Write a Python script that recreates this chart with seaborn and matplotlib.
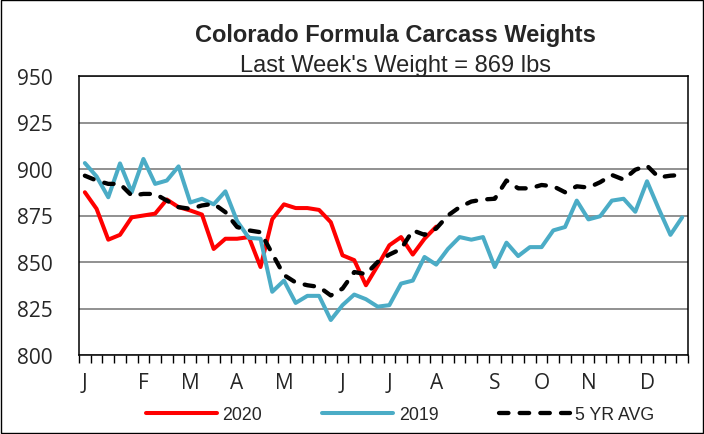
import numpy as np
import pandas as pd
import seaborn as sns
import matplotlib.pyplot as plt
from matplotlib.patches import Rectangle

# weekly carcass weights (lbs), week index 0..51
weeks = np.arange(52)
month_weeks = [0, 5, 9, 13, 17, 22, 26, 30, 35, 39, 43, 48]
month_labels = ['J', 'F', 'M', 'A', 'M', 'J', 'J', 'A', 'S', 'O', 'N', 'D']

w2020 = [887.5, 878.6, 862, 864.6, 874, 875, 876, 883.6, 879.5, 877.7,
         875.5, 857, 862.5, 862.5, 863.4, 847.3, 873, 881, 879, 879,
         878, 871.4, 853.6, 851, 837.5, 848, 859, 863.4, 854, 862.5, 869]

w2019 = [903.2, 896, 884.8, 903, 887.5, 905.4, 892, 893.8, 901.4, 882,
         884, 881, 888, 872, 863, 862.5, 834, 840, 828, 831.8,
         831.8, 818.8, 826.8, 832.5, 830, 826, 826.8, 838.4, 840, 852.7,
         848.6, 857, 863.4, 862, 863.4, 847.3, 860.4, 853.2, 858, 858,
         867, 868.8, 883, 872.9, 874.6, 883, 884, 877, 893.4, 878.6,
         864.6, 874]

avg5 = [896.4, 893.8, 892, 892, 885.7, 886.6, 886.6, 883, 879.5, 878.6,
        880.4, 881.3, 876.8, 868.8, 867, 866, 854.5, 843, 839, 837.5,
        836.6, 832, 835.7, 844.6, 843.5, 850, 854, 857, 867, 864.6,
        868, 875, 879.5, 882.5, 883.6, 884, 893.8, 889.6, 889.6, 891.4,
        890.7, 887.5, 890.7, 890, 892.9, 896.8, 894.3, 899.6, 901.8, 895.5,
        896.4, 896.8]

sns.set_style('white')
plt.rcParams['font.family'] = ['Liberation Sans', 'DejaVu Sans']

fig = plt.figure(figsize=(7.04, 4.35), dpi=100)
ax = fig.add_axes([79 / 704, 1 - 356 / 435, 609 / 704, 279 / 435])

sns.lineplot(x=weeks[:len(w2020)], y=w2020, color='#FF0000', lw=2.9, label='2020', ax=ax)
sns.lineplot(x=weeks, y=w2019, color='#4BACC6', lw=2.9, label='2019', ax=ax)
sns.lineplot(x=weeks, y=avg5, color='black', lw=3.1, linestyle=(0, (2.2, 2.6)),
             label='5 YR AVG', ax=ax)
for ln in ax.get_lines():
    ln.set_solid_capstyle('round')
    ln.set_dash_capstyle('round')

ax.set_xlim(-0.5, 51.5)
ax.set_ylim(800, 950)
yt = np.arange(800, 951, 25)
ax.set_yticks(yt)
ax.set_yticklabels([str(v) for v in yt], fontfamily='Open Sans', fontsize=15)
ax.tick_params(axis='y', length=0, pad=19)
ax.yaxis.grid(True, color='#888888', lw=1.3)
ax.set_axisbelow(True)

ax.set_xticks(month_weeks)
ax.set_xticklabels(month_labels, fontfamily='Open Sans', fontsize=15)
ax.set_xticks(np.arange(-0.5, 52, 1), minor=True)
ax.tick_params(axis='x', which='major', length=0, pad=12)
ax.tick_params(axis='x', which='minor', bottom=True, length=6, width=1,
               color='black', direction='out')

for s in ax.spines.values():
    s.set_color('black')
    s.set_linewidth(1.1)

handles, labels = ax.get_legend_handles_labels()
ax.get_legend().remove()
fig.legend(handles, labels, loc='center', bbox_to_anchor=(400 / 704, 1 - 416 / 435),
           ncol=3, frameon=False, fontsize=12.8, handlelength=4.0,
           handletextpad=0.3, columnspacing=3.4)

fig.text(395 / 704, 0.904, 'Colorado Formula Carcass Weights', ha='center',
         va='baseline', fontsize=17, fontweight='bold')
fig.text(395 / 704, 0.835, "Last Week's Weight = 869 lbs", ha='center',
         va='baseline', fontsize=17)

fig.patches.append(Rectangle((0.0008, 0.0012), 0.9984, 0.9976, transform=fig.transFigure,
                             fill=False, ec='black', lw=1))

fig.savefig('out.png', dpi=100)
